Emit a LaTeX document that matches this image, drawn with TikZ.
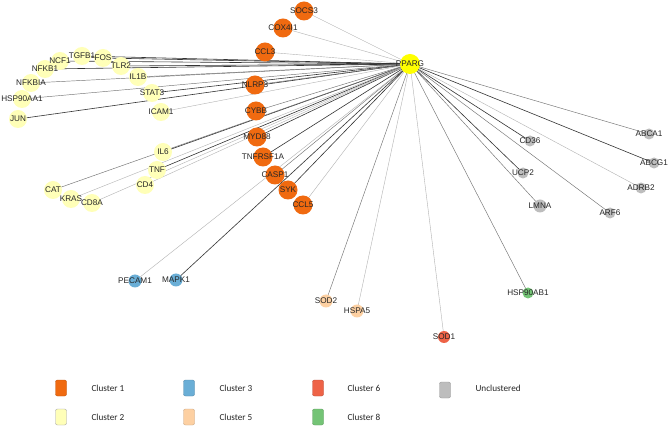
\documentclass[tikz,border=0pt]{standalone}
\usepackage{fontspec}
\setmainfont{Liberation Sans}
\newfontfamily\legendfont{Carlito}
\definecolor{corange}{HTML}{F06A10}
\definecolor{cyellow}{HTML}{FFFFB8}
\definecolor{cblue}{HTML}{6AAED6}
\definecolor{cpeach}{HTML}{FDD0A2}
\definecolor{cred}{HTML}{EE6347}
\definecolor{cgreen}{HTML}{74C476}
\definecolor{cgray}{HTML}{BDBDBD}
\definecolor{hub}{HTML}{FFFF00}
\begin{document}
\begin{tikzpicture}[x=1pt,y=-1pt,
  lab/.style={font=\fontsize{8.2}{9}\selectfont, text=black!85, inner sep=0.5pt},
  base/.style={circle, inner sep=0pt, draw=none},
  hubnode/.style={base, fill=hub, minimum size=20pt},
  c1/.style={base, fill=corange, minimum size=19pt},
  c2/.style={base, fill=cyellow, minimum size=18pt},
  c3/.style={base, fill=cblue, minimum size=13pt},
  c5/.style={base, fill=cpeach, minimum size=13pt},
  c6/.style={base, fill=cred, minimum size=12pt},
  c8/.style={base, fill=cgreen, minimum size=11pt},
  cu/.style={base, fill=cgray, minimum size=11pt},
  ed/.style={draw=black!80, line width=0.6pt},
  em/.style={draw=black!55, line width=0.45pt},
  el/.style={draw=black!30, line width=0.4pt},
  legbox/.style={rounded corners=2pt, minimum width=11pt, minimum height=16pt, inner sep=0pt},
  legtxt/.style={anchor=west, font=\legendfont\fontsize{9.2}{10}\selectfont, text=black!85}
]
\useasboundingbox (0,0) rectangle (669,427);
\fill[white] (0,0) rectangle (669,427);

% node positions
\coordinate (pPPARG) at (410,64);
\coordinate (pSOCS3) at (304,11);
\coordinate (pCOX4I1) at (283,28);
\coordinate (pCCL3) at (265,52);
\coordinate (pNLRP3) at (255,85);
\coordinate (pCYBB) at (256,111);
\coordinate (pMYD88) at (257,137);
\coordinate (pTNFRSF1A) at (263,157);
\coordinate (pCASP1) at (275,175);
\coordinate (pSYK) at (288,190);
\coordinate (pCCL5) at (303,205);
\coordinate (pNCF1) at (60,61);
\coordinate (pTGFB1) at (82,56);
\coordinate (pFOS) at (103,58);
\coordinate (pTLR2) at (121,66);
\coordinate (pNFKB1) at (45,69);
\coordinate (pNFKBIA) at (31,83);
\coordinate (pIL1B) at (138,77);
\coordinate (pHSP90AA1) at (22,99);
\coordinate (pSTAT3) at (152,93);
\coordinate (pJUN) at (18,119);
\coordinate (pICAM1) at (161,112);
\coordinate (pIL6) at (163,152);
\coordinate (pTNF) at (157,170);
\coordinate (pCD4) at (145,185);
\coordinate (pCAT) at (53,190);
\coordinate (pKRAS) at (71,199);
\coordinate (pCD8A) at (92,203);
\coordinate (pPECAM1) at (135,281);
\coordinate (pMAPK1) at (176,280);
\coordinate (pSOD2) at (326,301);
\coordinate (pHSPA5) at (357,311);
\coordinate (pSOD1) at (444,337);
\coordinate (pHSP90AB1) at (528,293);
\coordinate (pCD36) at (530,141);
\coordinate (pUCP2) at (523,173);
\coordinate (pLMNA) at (540,206);
\coordinate (pARF6) at (610,213);
\coordinate (pABCA1) at (649,134);
\coordinate (pABCG1) at (654,163);
\coordinate (pADRB2) at (641,188);

% edges (drawn first, under the nodes)
\foreach \n in {FOS,TGFB1,NCF1,TLR2,NFKB1,JUN,STAT3,IL6,TNF,MYD88,TNFRSF1A,SYK,MAPK1,CD36,UCP2,ABCG1}
  \draw[ed] (pPPARG) -- (p\n);
\foreach \n in {IL1B,NFKBIA,HSP90AA1,CAT,NLRP3,CYBB,CASP1,SOD2,HSP90AB1,LMNA,ARF6,ABCA1}
  \draw[em] (pPPARG) -- (p\n);
\foreach \n in {SOCS3,COX4I1,CCL3,ICAM1,CD4,KRAS,CD8A,PECAM1,HSPA5,SOD1,CCL5,ADRB2}
  \draw[el] (pPPARG) -- (p\n);

% nodes
\foreach \n in {SOCS3,COX4I1,CCL3,NLRP3,CYBB,MYD88,TNFRSF1A,CASP1,SYK,CCL5}
  \node[c1] (\n) at (p\n) {};
\foreach \n in {NCF1,TGFB1,FOS,TLR2,NFKB1,NFKBIA,IL1B,HSP90AA1,STAT3,JUN,ICAM1,IL6,TNF,CD4,CAT,KRAS,CD8A}
  \node[c2] (\n) at (p\n) {};
\foreach \n in {PECAM1,MAPK1}
  \node[c3] (\n) at (p\n) {};
\foreach \n in {SOD2,HSPA5}
  \node[c5] (\n) at (p\n) {};
\node[c6] (SOD1) at (pSOD1) {};
\node[c8] (HSP90AB1) at (pHSP90AB1) {};
\foreach \n in {CD36,UCP2,ARF6,ABCA1,ABCG1,ADRB2}
  \node[cu] (\n) at (p\n) {};
\node[cu, minimum size=13pt] (LMNA) at (pLMNA) {};
\node[hubnode] (PPARG) at (pPPARG) {};

% labels
\foreach \n in {PPARG,SOCS3,COX4I1,CCL3,NLRP3,CYBB,MYD88,TNFRSF1A,CASP1,SYK,CCL5,
  NCF1,TGFB1,FOS,TLR2,NFKB1,NFKBIA,IL1B,HSP90AA1,STAT3,JUN,ICAM1,IL6,TNF,CD4,CAT,KRAS,CD8A,
  PECAM1,MAPK1,SOD2,HSPA5,SOD1,HSP90AB1,CD36,UCP2,LMNA,ARF6,ABCA1,ABCG1,ADRB2}
  \node[lab] (l\n) at (\n) {\n};

% legend
\node[legbox, fill=corange, draw=corange!80!black] (k1) at (61,388) {};
\node[legtxt] (t1) at (88,388) {Cluster 1};
\node[legbox, fill=cyellow, draw=black!35] (k2) at (61,417) {};
\node[legtxt] (t2) at (88,417) {Cluster 2};
\node[legbox, fill=cblue, draw=cblue!80!black] (k3) at (189,388) {};
\node[legtxt] (t3) at (216,388) {Cluster 3};
\node[legbox, fill=cpeach, draw=cpeach!80!black] (k5) at (189,417) {};
\node[legtxt] (t5) at (216,417) {Cluster 5};
\node[legbox, fill=cred, draw=cred!80!black] (k6) at (318,388) {};
\node[legtxt] (t6) at (344,388) {Cluster 6};
\node[legbox, fill=cgreen, draw=cgreen!80!black] (k8) at (318,417) {};
\node[legtxt] (t8) at (344,417) {Cluster 8};
\node[legbox, fill=cgray, draw=cgray!80!black] (ku) at (445,390) {};
\node[legtxt] (tu) at (472,388) {Unclustered};
\end{tikzpicture}
\end{document}
